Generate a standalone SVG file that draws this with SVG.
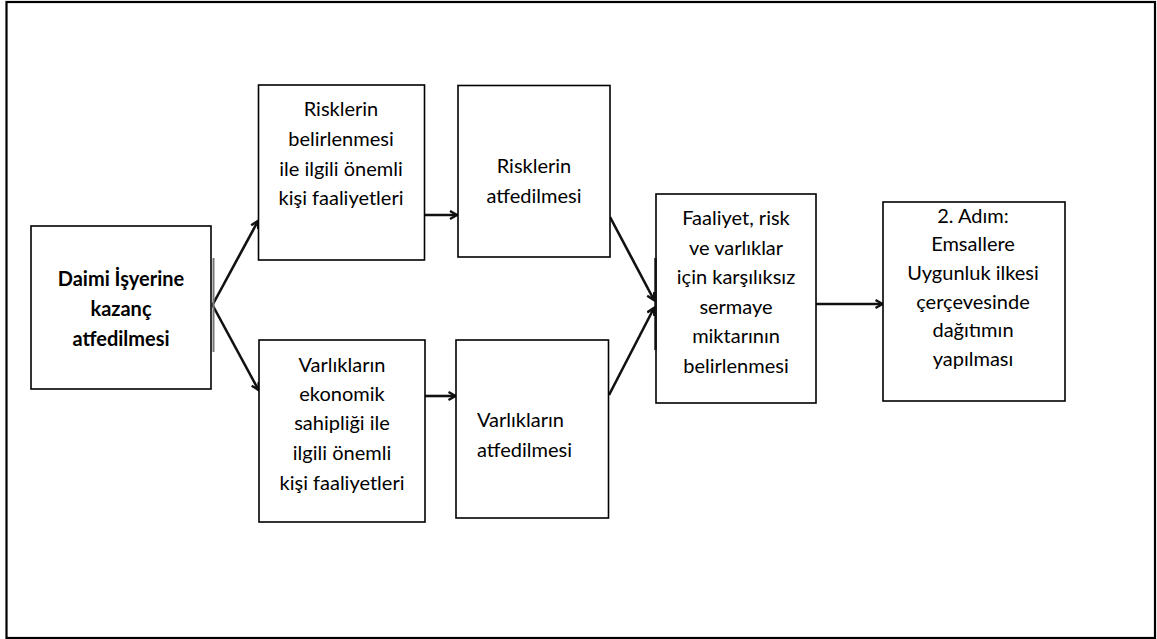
<svg xmlns="http://www.w3.org/2000/svg" width="1157" height="639" viewBox="0 0 1157 639">
<defs>
<style>
.box{fill:#fff;stroke:#000;stroke-width:1.6}
.t{font-family:Lato,"Open Sans","Liberation Sans",sans-serif;font-size:20px;fill:#000;text-anchor:middle}
.b{font-weight:bold}
.l{text-anchor:start}
.c{fill:none;stroke:#111;stroke-width:2.6;marker-end:url(#ah)}
</style>
<marker id="ah" markerUnits="userSpaceOnUse" markerWidth="12" markerHeight="12" refX="8" refY="5" orient="auto">
<path d="M1,1 L8,5 L1,9" fill="none" stroke="#111" stroke-width="2.4"/>
</marker>
</defs>
<rect x="0" y="0" width="1157" height="639" fill="#fff"/>
<rect x="6.5" y="2" width="1148.5" height="636" fill="none" stroke="#000" stroke-width="2.2"/>

<g id="connectors">
<path class="c" d="M212.5,305 L258,221"/>
<path class="c" d="M212.5,305 L258.5,390"/>
<path class="c" d="M424,215 L457,215"/>
<path class="c" d="M425,396 L455.5,396"/>
<path class="c" d="M610,217 L654,300"/>
<path class="c" d="M609,395 L654,308"/>
<path class="c" d="M816,304 L882.5,304"/>
</g>

<g id="node-daimi">
<rect class="box" x="31" y="226" width="180" height="163"/>
<line x1="213.5" y1="258" x2="213.5" y2="352" stroke="#777" stroke-width="2"/>
<text class="t b" x="121" y="286">Daimi İşyerine</text>
<text class="t b" x="121" y="316">kazanç</text>
<text class="t b" x="121" y="345.5">atfedilmesi</text>
</g>

<g id="node-risk-belirlenmesi">
<rect class="box" x="258.5" y="85" width="166" height="175"/>
<text class="t" x="341" y="116">Risklerin</text>
<text class="t" x="341" y="146">belirlenmesi</text>
<text class="t" x="341" y="176">ile ilgili önemli</text>
<text class="t" x="341" y="205">kişi faaliyetleri</text>
</g>

<g id="node-varlik-sahipligi">
<rect class="box" x="259" y="340" width="166" height="182"/>
<text class="t" x="342" y="371.5">Varlıkların</text>
<text class="t" x="342" y="400.5">ekonomik</text>
<text class="t" x="342" y="430">sahipliği ile</text>
<text class="t" x="342" y="460">ilgili önemli</text>
<text class="t" x="342" y="489.5">kişi faaliyetleri</text>
</g>

<g id="node-risk-atfedilmesi">
<rect class="box" x="458" y="85.5" width="152" height="171.5"/>
<text class="t" x="534" y="173">Risklerin</text>
<text class="t" x="534" y="202.5">atfedilmesi</text>
</g>

<g id="node-varlik-atfedilmesi">
<rect class="box" x="456" y="340" width="152.5" height="178"/>
<text class="t l" x="477" y="427">Varlıkların</text>
<text class="t l" x="477" y="456.5">atfedilmesi</text>
</g>

<g id="node-faaliyet">
<rect class="box" x="656" y="194" width="160" height="209"/>
<line x1="655.5" y1="258" x2="655.5" y2="350" stroke="#111" stroke-width="2.4"/>
<text class="t" x="736" y="225">Faaliyet, risk</text>
<text class="t" x="736" y="254.5">ve varlıklar</text>
<text class="t" x="736" y="284">için karşılıksız</text>
<text class="t" x="736" y="313.5">sermaye</text>
<text class="t" x="736" y="343">miktarının</text>
<text class="t" x="736" y="373">belirlenmesi</text>
</g>

<g id="node-adim2">
<rect class="box" x="883" y="202" width="182" height="199"/>
<text class="t" x="973" y="222.5">2. Adım:</text>
<text class="t" x="973" y="251">Emsallere</text>
<text class="t" x="973" y="280">Uygunluk ilkesi</text>
<text class="t" x="973" y="308.5">çerçevesinde</text>
<text class="t" x="973" y="337">dağıtımın</text>
<text class="t" x="973" y="366">yapılması</text>
</g>
</svg>
